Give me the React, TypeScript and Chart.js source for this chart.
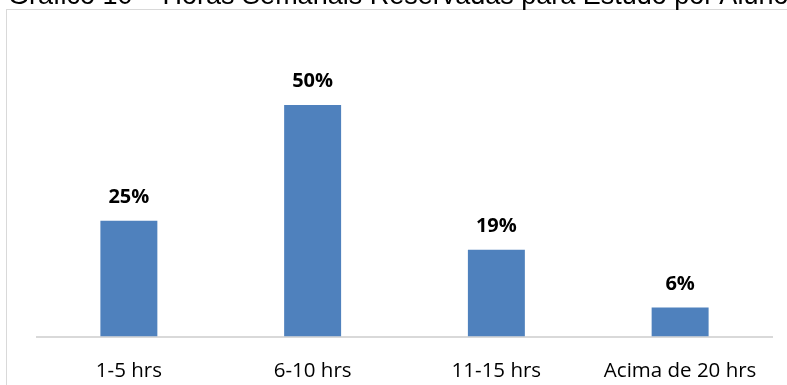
import React, { useEffect, useRef } from "react";
import { Chart, registerables } from "chart.js";

Chart.register(...registerables);

const TITLE = "Gráfico 10 – Horas Semanais Reservadas para Estudo por Aluno";
const categories = ["1-5 hrs", "6-10 hrs", "11-15 hrs", "Acima de 20 hrs"];
const percentValues = [25, 50, 18.75, 6.25];
const BAR_COLOR = "#4F81BD";

const valueLabels = {
  id: "valueLabels",
  afterDatasetsDraw(chart: any) {
    const ctx = chart.ctx;
    const meta = chart.getDatasetMeta(0);
    ctx.save();
    ctx.font = "bold 20px 'Open Sans', sans-serif";
    ctx.fillStyle = "#000000";
    ctx.textAlign = "center";
    ctx.textBaseline = "alphabetic";
    meta.data.forEach((bar: any, i: number) => {
      const v = chart.data.datasets[0].data[i] as number;
      ctx.fillText(Math.round(v) + "%", bar.x, bar.y - 18);
    });
    ctx.restore();
  },
};

export default function App() {
  const ref = useRef<HTMLCanvasElement | null>(null);
  useEffect(() => {
    if (!ref.current) return;
    const chart = new Chart(ref.current, {
      type: "bar",
      data: {
        labels: categories,
        datasets: [
          {
            data: percentValues,
            backgroundColor: BAR_COLOR,
            barPercentage: 0.31,
            categoryPercentage: 1,
          },
        ],
      },
      options: {
        animation: false,
        responsive: false,
        maintainAspectRatio: false,
        layout: { padding: { left: 37, right: 15, top: 58.7, bottom: 0 } },
        plugins: { legend: { display: false }, tooltip: { enabled: false }, title: { display: false } },
        scales: {
          y: { display: false, min: 0, max: 60 },
          x: {
            afterFit: (scale: any) => {
              scale.height = 48.5;
            },
            grid: { display: false, drawTicks: false },
            border: { display: true, color: "#d9d9d9", width: 2 },
            ticks: {
              padding: 22,
              color: "#000000",
              font: { family: "'Open Sans', sans-serif", size: 20.5 },
              maxRotation: 0,
            },
          },
        },
      },
      plugins: [valueLabels],
    });
    return () => chart.destroy();
  }, []);

  return (
    <div style={{ position: "fixed", left: 0, top: 0, width: 787, height: 385, overflow: "hidden", background: "#fff" }}>
      <div
        style={{
          position: "absolute",
          left: 6,
          top: 9,
          width: 800,
          height: 400,
          border: "1.5px solid #d9d9d9",
        }}
      />
      <canvas ref={ref} width={787} height={385} style={{ position: "absolute", left: 0, top: 0 }} />
      <div
        style={{
          position: "absolute",
          left: 8,
          top: -17.8,
          fontFamily: "'Liberation Sans', Arial, sans-serif",
          fontSize: 27,
          lineHeight: "27px",
          whiteSpace: "nowrap",
          color: "#000",
        }}
      >
        {TITLE}
      </div>
    </div>
  );
}
